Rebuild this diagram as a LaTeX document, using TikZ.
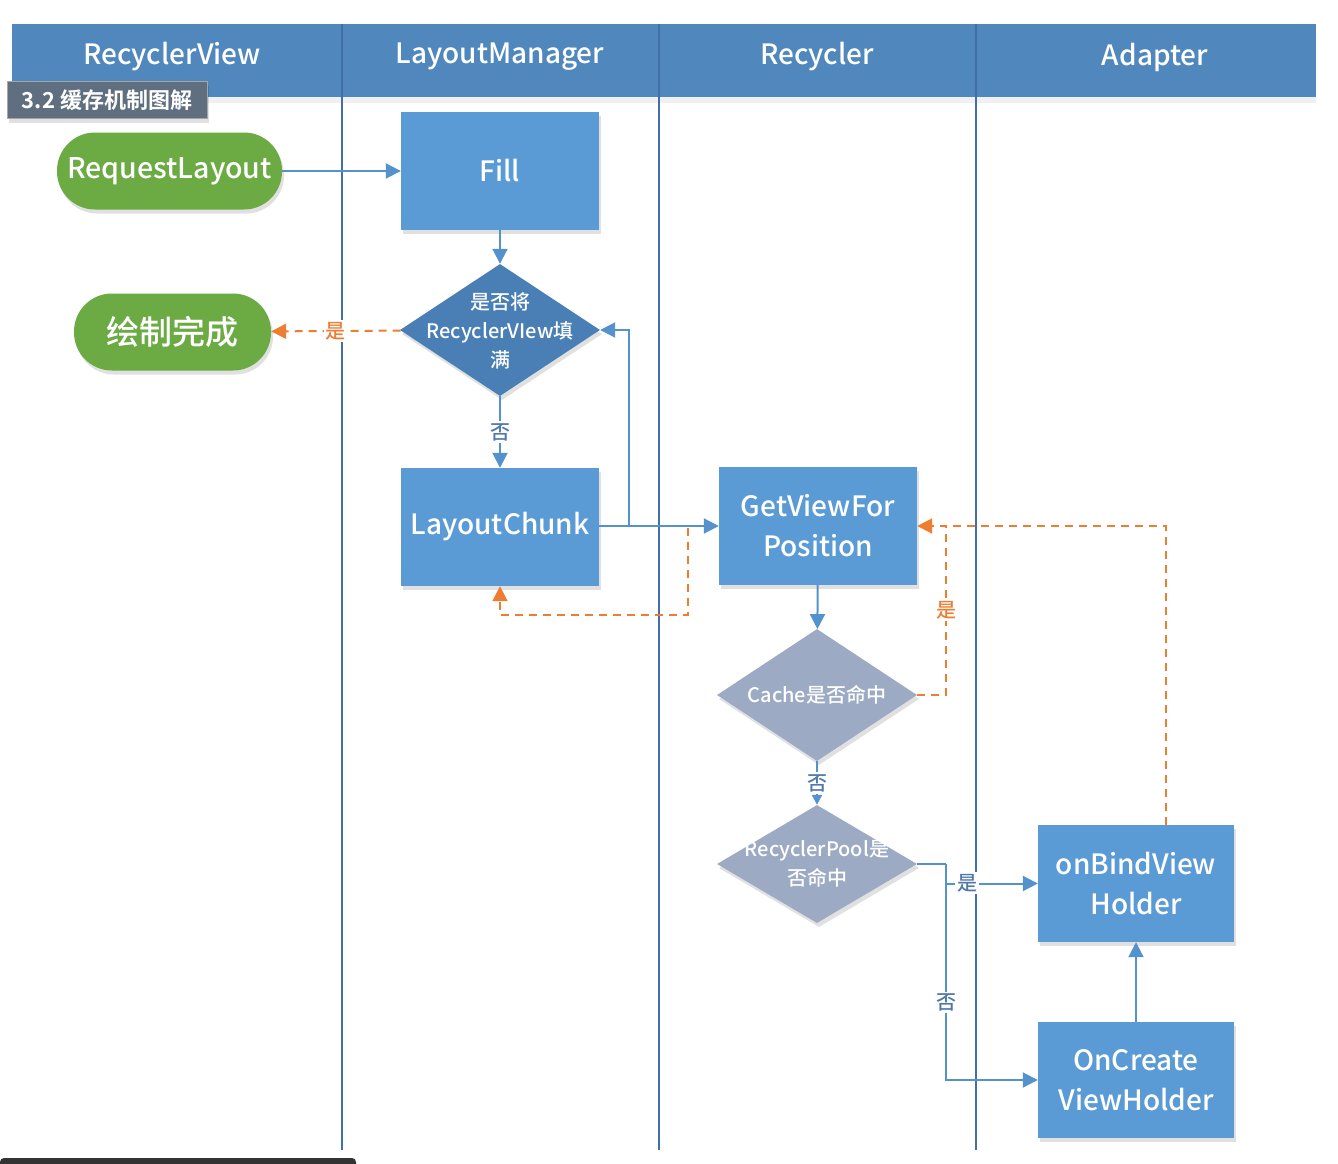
\documentclass[tikz,border=0pt]{standalone}
\usepackage{fontspec}
\setmainfont{Noto Sans CJK SC}[UprightFont={* Medium},BoldFont={* Bold}]
\usetikzlibrary{arrows.meta,shapes.geometric,calc,shadows}
\definecolor{headblue}{RGB}{80,135,189}
\definecolor{laneline}{RGB}{66,112,166}
\definecolor{boxblue}{RGB}{91,155,213}
\definecolor{diablue}{RGB}{74,127,182}
\definecolor{diagrey}{RGB}{156,170,196}
\definecolor{pillgreen}{RGB}{108,171,68}
\definecolor{flowline}{RGB}{84,146,206}
\definecolor{dashorange}{RGB}{237,125,49}
\definecolor{badgegrey}{RGB}{96,111,128}
\definecolor{labelblue}{RGB}{80,120,170}
\tikzset{
  softshadow/.style={drop shadow={shadow xshift=2pt,shadow yshift=-4pt,opacity=0.12,fill=black}},
  lanetitle/.style={text=white,font=\fontsize{28}{32}\selectfont},
  stepbox/.style={fill=boxblue,text=white,minimum width=198pt,minimum height=118pt,
    inner sep=0pt,align=center,font=\fontsize{28}{40}\selectfont,softshadow},
  pill/.style={fill=pillgreen,text=white,rounded corners=38pt,minimum height=77pt,inner sep=0pt,softshadow},
  dia/.style={diamond,inner sep=0pt,minimum width=200pt,minimum height=132pt,softshadow},
  diatext/.style={text=white,align=center,font=\fontsize{20}{29}\selectfont},
  flow/.style={draw=flowline,line width=2pt,-{Triangle[length=15pt,width=15pt]}},
  dflow/.style={draw=dashorange,line width=2pt,dash pattern=on 8pt off 6pt,-{Triangle[length=15pt,width=15pt]}},
  dline/.style={draw=dashorange,line width=2pt,dash pattern=on 8pt off 6pt},
  lbl/.style={fill=white,inner sep=2pt,text=labelblue,font=\fontsize{20}{22}\selectfont},
  olbl/.style={fill=white,inner sep=2pt,text=dashorange,font=\fontsize{20}{22}\selectfont},
}
\begin{document}
\begin{tikzpicture}[x=1pt,y=-1pt]
\useasboundingbox (0,0) rectangle (1338,1164);
\fill[white] (0,0) rectangle (1338,1164);

% swimlane header and dividers
\fill[black,opacity=0.06] (12,97) rectangle (1316,103);
\fill[headblue] (12,24) rectangle (1316,97);
\node[lanetitle] (hRV) at (172,57) {RecyclerView};
\node[lanetitle] (hLM) at (500,57) {LayoutManager};
\node[lanetitle] (hRC) at (817,57) {Recycler};
\node[lanetitle] (hAD) at (1155,57) {Adapter};
\foreach \lx in {342,659,976}
  \draw[laneline,line width=2.5pt] (\lx,24) -- (\lx,1150);

% section badge
\node[fill=badgegrey,draw=gray!70,line width=1pt,text=white,inner xsep=12pt,
  minimum width=200pt,minimum height=37pt,font=\bfseries\fontsize{22}{26}\selectfont,softshadow]
  (badge) at (107,100) {3.2 缓存机制图解};

% nodes
\node[pill,minimum width=225pt,font=\fontsize{28.5}{32}\selectfont] (req) at (169.5,171) {RequestLayout};
\node[pill,minimum width=197pt,font=\fontsize{33}{36}\selectfont] (done) at (172.5,332) {绘制完成};
\node[stepbox] (fill) at (500,171) {Fill};
\node[dia,fill=diablue] (full) at (500,330) {};
\node[diatext] (fulltext) at (500,331) {是否将\\RecyclerVIew填\\满};
\node[stepbox] (chunk) at (500,527) {LayoutChunk};
\node[stepbox] (gvfp) at (818,526) {GetViewFor\\Position};
\node[dia,fill=diagrey] (cache) at (817,695) {};
\node[diatext] (cachetext) at (817,695) {Cache是否命中};
\node[dia,fill=diagrey,minimum height=118pt] (pool) at (817,864) {};
\node[diatext] (pooltext) at (817,864) {RecyclerPool是\\否命中};
\node[stepbox,minimum width=196pt,minimum height=117pt] (bind) at (1136,883.5) {onBindView\\Holder};
\node[stepbox,minimum width=196pt,minimum height=116pt] (create) at (1136,1080) {OnCreate\\ViewHolder};

% junction points of the elbow connectors
\coordinate (loopj) at (629,526);
\coordinate (backj) at (688,528);
\coordinate (backk) at (500,615);
\coordinate (cachej) at (946,695);
\coordinate (mergej) at (946,526);
\coordinate (bindj) at (1166,825);
\coordinate (poolj) at (946,864);
\coordinate (yesl) at (967,883);

% connectors
\draw[flow] (req) -- (fill);
\draw[flow] (fill) -- (full);
\draw[dflow] (full) -- node[olbl] (yes1) {是} (done);
\draw[flow] (full) -- node[lbl,pos=0.5] (no1) {否} (chunk);
\draw[flow] (chunk.east |- loopj) -- (gvfp);
\draw[flow] (loopj) |- (full.east);
\draw[dflow] (backj) |- (backk) -- (chunk.south);
\draw[flow] (gvfp) -- (cache);
\draw[dflow] (cache.east) -- (cachej) |- node[olbl,pos=0.25] (yes2) {是} (gvfp.east);
\draw[dline] (bindj) |- (mergej);
\draw[flow,-{Triangle[length=10pt,width=10pt]}] (cache) -- node[lbl] (no2) {否} (pool);
\draw[draw=flowline,line width=2pt] (pool.east) -- (poolj);
\draw[flow] (poolj) |- (bind.west);
\node[lbl] (yes3) at (yesl) {是};
\draw[flow] (poolj) |- node[lbl,pos=0.32] (no3) {否} (create.west);
\draw[flow] (create) -- (bind);

% dark strip along the bottom edge
\fill[black!80,rounded corners=4pt] (0,1158) rectangle (356,1172);
\end{tikzpicture}
\end{document}
